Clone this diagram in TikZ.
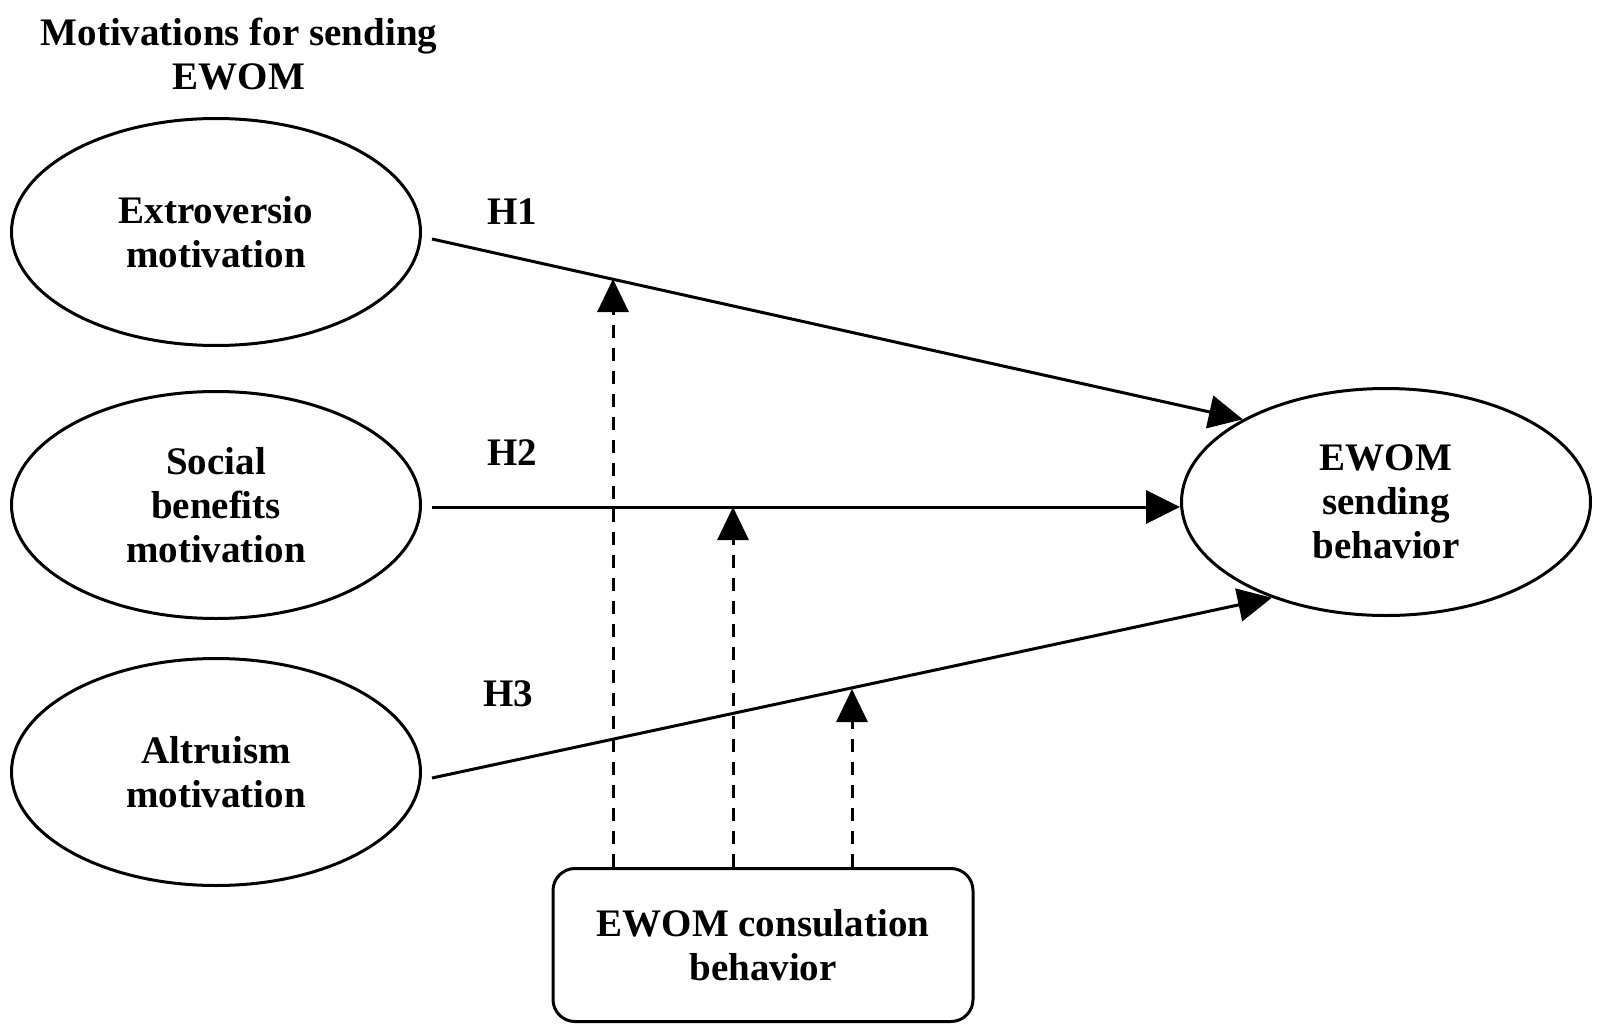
\documentclass[tikz,border=0pt]{standalone}
\usepackage{fontspec}
\setmainfont{Liberation Serif}
\usetikzlibrary{arrows.meta,shapes.geometric}
\begin{document}
\begin{tikzpicture}[x=1pt,y=-1pt,
  txt/.style={font=\fontsize{39}{44}\selectfont\bfseries, align=center, inner sep=0pt},
  construct/.style={txt, draw, line width=3pt, ellipse, minimum width=409pt, minimum height=227pt},
  modbox/.style={txt, draw, line width=3pt, rounded corners=22pt, minimum width=420pt, minimum height=153pt},
  path/.style={line width=3pt, -{Triangle[length=34pt,width=33pt]}},
  modpath/.style={line width=3pt, dash pattern=on 13pt off 10pt, -{Triangle[length=33pt,width=31pt]}}]
\useasboundingbox (0,0) rectangle (1614,1033);
\node[txt] (title) at (239,54) {Motivations for sending\\EWOM};
\node[construct] (e1) at (216,232) {Extroversio\\motivation};
\node[construct] (e2) at (216,505) {Social\\benefits\\motivation};
\node[construct] (e3) at (216,772) {Altruism\\motivation};
\node[construct] (ewom) at (1386,502) {EWOM\\sending\\behavior};
\node[modbox] (box) at (763,945) {EWOM consulation\\behavior};
\node[txt] (h1) at (512,212) {H1};
\node[txt] (h2) at (512,453) {H2};
\node[txt] (h3) at (508,694) {H3};
\coordinate (s1) at (432,239);
\coordinate (s2) at (432,507);
\coordinate (s3) at (432,778);
\coordinate (m1) at (613,279);
\coordinate (m2) at (733,507);
\coordinate (m3) at (852,689);
\draw[path] (s1) -- (ewom.150);
\draw[path] (s2) -- (s2 -| ewom.west);
\draw[path] (s3) -- (ewom.220);
\draw[modpath] (box.north -| m1) -- (m1);
\draw[modpath] (box.north -| m2) -- (m2);
\draw[modpath] (box.north -| m3) -- (m3);
\end{tikzpicture}
\end{document}
